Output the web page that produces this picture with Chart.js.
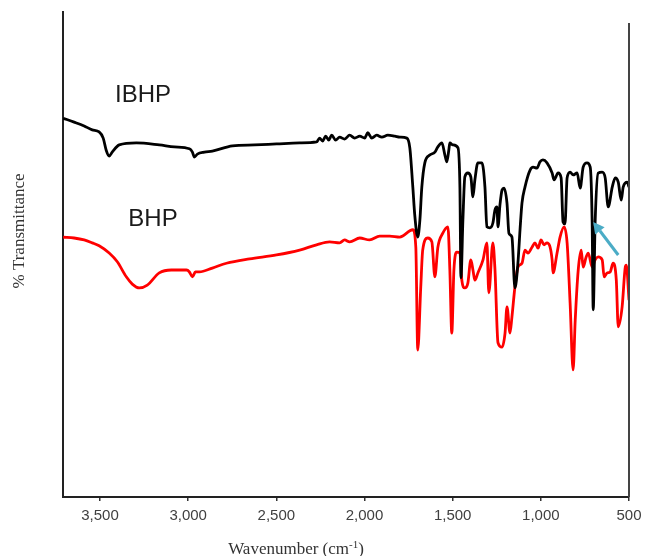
<!DOCTYPE html>
<html>
<head>
<meta charset="utf-8">
<script src="https://cdn.jsdelivr.net/npm/chart.js@4"></script>
<style>
  html, body { margin: 0; padding: 0; background: #fff; }
  #wrap { width: 645px; height: 556px; }
</style>
</head>
<body>
<div id="wrap"><canvas id="c" width="645" height="556"></canvas></div>
<script>
// ---- DATA ----
const xTicks = [3500, 3000, 2500, 2000, 1500, 1000, 500];
const seriesNames = ["IBHP", "BHP"];

const ibhpWn = [3709,3647,3590,3544,3505,3482,3465,3448,3431,3391,3294,3164,3078,2993,2976,2965,2948,2908,2863,2749,2624,2499,2368,2272,2255,2238,2220,2203,2186,2164,2141,2113,2084,2056,2027,1999,1982,1959,1931,1902,1868,1828,1800,1760,1743,1726,1715,1698,1686,1675,1658,1630,1601,1584,1561,1544,1533,1522,1516,1499,1470,1459,1453,1442,1431,1414,1397,1385,1374,1357,1334,1317,1306,1289,1272,1260,1249,1243,1232,1220,1209,1192,1181,1164,1147,1130,1118,1107,1090,1061,1044,1022,1005,988,965,936,925,902,885,874,863,851,834,817,794,777,760,738,720,709,703,692,675,652,635,618,595,578,561,544,533,510,500];
const ibhpT  = [78.1,77.3,76.5,75.7,75.3,74.0,71.5,70.3,71.1,72.6,73.0,72.6,72.2,71.8,71.1,70.1,70.7,71.1,71.3,72.4,72.6,72.8,73.0,73.2,74.0,73.4,74.4,73.6,74.6,73.6,74.2,73.8,74.6,74.0,74.4,74.0,75.1,74.0,74.6,74.2,74.6,74.4,74.2,74.0,72.0,63.9,58.1,53.6,57.1,63.9,68.9,70.5,71.1,72.2,73.0,70.5,69.1,71.5,73.0,72.6,72.0,63.9,45.2,57.1,66.0,66.8,66.0,61.9,65.4,68.9,68.9,63.9,55.7,55.5,56.5,59.2,59.8,55.7,60.2,63.3,63.7,60.6,54.4,53.6,43.1,48.2,55.1,60.6,63.9,67.4,68.0,67.8,69.1,69.5,68.9,66.8,65.4,66.8,65.8,56.7,56.3,65.8,67.0,66.4,66.8,63.7,68.0,68.9,68.0,56.7,38.6,56.7,66.8,67.0,65.8,59.8,63.9,65.8,64.9,61.2,63.9,64.9,63.9];

const bhpWn = [3709,3647,3590,3544,3505,3448,3402,3351,3317,3277,3232,3164,3096,3010,2993,2976,2959,2936,2863,2783,2652,2499,2368,2272,2198,2141,2113,2084,2027,1971,1914,1857,1800,1726,1709,1698,1681,1670,1641,1618,1601,1584,1556,1527,1516,1505,1493,1476,1459,1448,1431,1414,1397,1385,1374,1357,1328,1306,1295,1272,1260,1243,1220,1203,1192,1175,1164,1147,1130,1107,1090,1073,1050,1033,1016,999,982,965,936,931,908,891,868,851,834,817,805,788,771,760,743,731,709,692,675,652,641,624,607,590,572,561,539,521,515,500];
const bhpT  = [53.6,53.4,53.0,52.4,51.8,50.3,48.5,45.4,43.9,43.1,43.7,46.2,46.8,46.8,46.4,45.4,46.4,46.4,47.2,48.2,49.1,49.9,50.9,52.0,52.6,52.4,53.0,52.6,53.4,53.0,53.8,53.8,53.6,55.1,51.5,30.3,43.3,50.9,53.4,52.6,45.4,51.5,54.4,55.7,46.8,33.8,46.8,50.5,50.3,44.7,43.1,44.1,48.9,46.8,44.7,46.2,48.9,52.4,42.1,52.4,46.8,31.8,30.9,33.8,39.2,33.8,37.1,43.3,47.4,48.2,50.9,50.3,51.5,52.4,51.3,53.0,52.0,52.4,48.9,46.2,50.3,53.6,55.7,52.4,40.0,26.2,36.5,46.8,50.9,47.4,49.5,50.3,47.4,48.9,49.5,48.9,45.4,46.2,46.4,48.2,44.7,35.1,39.2,47.4,47.8,40.6];

// annotation arrow (tail -> head) in data units
const arrowTail = [561, 49.9];
const arrowHead = [703, 56.7];

const toPts = (xs, ys) => xs.map((x, i) => ({ x: x, y: ys[i] }));

// ---- PLUGIN: titles, labels, arrow, right frame ----
const decor = {
  id: 'decor',
  afterDatasetsDraw(chart) {
    const ctx = chart.ctx, ca = chart.chartArea;
    const xs = chart.scales.x, ys = chart.scales.y;
    ctx.save();
    // right frame line
    ctx.strokeStyle = '#444';
    ctx.lineWidth = 2;
    ctx.beginPath();
    ctx.moveTo(ca.right, 23);
    ctx.lineTo(ca.right, ca.bottom);
    ctx.stroke();

    // series labels
    ctx.fillStyle = '#1a1a1a';
    ctx.font = '24px "Liberation Sans", Arial, sans-serif';
    ctx.textAlign = 'center';
    ctx.textBaseline = 'middle';
    ctx.fillText(seriesNames[0], 143, 95);
    ctx.fillText(seriesNames[1], 153, 219);

    // arrow
    const x1 = xs.getPixelForValue(arrowTail[0]), y1 = ys.getPixelForValue(arrowTail[1]);
    const x2 = xs.getPixelForValue(arrowHead[0]), y2 = ys.getPixelForValue(arrowHead[1]);
    const ang = Math.atan2(y2 - y1, x2 - x1);
    const hl = 11, hw = 6;
    const bx = x2 - hl * Math.cos(ang), by = y2 - hl * Math.sin(ang);
    ctx.strokeStyle = '#4bacc6';
    ctx.fillStyle = '#4bacc6';
    ctx.lineWidth = 3;
    ctx.beginPath();
    ctx.moveTo(x1, y1);
    ctx.lineTo(bx, by);
    ctx.stroke();
    ctx.beginPath();
    ctx.moveTo(x2, y2);
    ctx.lineTo(bx + hw * Math.sin(ang), by - hw * Math.cos(ang));
    ctx.lineTo(bx - hw * Math.sin(ang), by + hw * Math.cos(ang));
    ctx.closePath();
    ctx.fill();

    // y axis title
    ctx.fillStyle = '#333';
    ctx.font = '17px "Liberation Serif", "Times New Roman", serif';
    ctx.save();
    ctx.translate(20, 231);
    ctx.rotate(-Math.PI / 2);
    ctx.textAlign = 'center';
    ctx.textBaseline = 'middle';
    ctx.fillText('% Transmittance', 0, 0);
    ctx.restore();

    // x axis title with superscript
    const main = 'Wavenumber (cm', sup = '-1', end = ')';
    const fMain = '17px "Liberation Serif", "Times New Roman", serif';
    const fSup = '11px "Liberation Serif", "Times New Roman", serif';
    ctx.font = fMain; const w1 = ctx.measureText(main).width, w3 = ctx.measureText(end).width;
    ctx.font = fSup; const w2 = ctx.measureText(sup).width;
    let x = 296 - (w1 + w2 + w3) / 2;
    const yb = 554;
    ctx.textAlign = 'left';
    ctx.textBaseline = 'alphabetic';
    ctx.font = fMain; ctx.fillText(main, x, yb); x += w1;
    ctx.font = fSup; ctx.fillText(sup, x, yb - 6); x += w2;
    ctx.font = fMain; ctx.fillText(end, x, yb);
    ctx.restore();
  }
};

new Chart(document.getElementById('c'), {
  type: 'line',
  data: {
    datasets: [
      { label: seriesNames[0], data: toPts(ibhpWn, ibhpT), borderColor: '#000', borderWidth: 2.8,
        pointRadius: 0, fill: false, cubicInterpolationMode: 'monotone' },
      { label: seriesNames[1], data: toPts(bhpWn, bhpT), borderColor: '#ff0000', borderWidth: 2.8,
        pointRadius: 0, fill: false, cubicInterpolationMode: 'monotone' }
    ]
  },
  options: {
    responsive: false,
    animation: false,
    events: [],
    layout: { padding: { top: 12, right: 16, left: 6, bottom: 0 } },
    plugins: { legend: { display: false }, tooltip: { enabled: false } },
    scales: {
      x: {
        type: 'linear', reverse: true, min: 500, max: 3710,
        afterBuildTicks: (s) => { s.ticks = xTicks.map(v => ({ value: v })); },
        afterFit: (s) => { s.height = 59; s.paddingLeft = 0; s.paddingRight = 0; },
        ticks: {
          padding: 6, color: '#404040', maxRotation: 0, autoSkip: false,
          font: { family: '"Liberation Sans", Arial, sans-serif', size: 15 },
          callback: (v) => Number(v).toLocaleString('en-US')
        },
        grid: { drawOnChartArea: false, drawTicks: true, tickLength: 4, color: '#333', lineWidth: 1.5 },
        border: { display: true, color: '#222', width: 2 }
      },
      y: {
        min: 0, max: 100,
        afterFit: (s) => { s.width = 57; },
        ticks: { display: false },
        grid: { display: false, drawTicks: false },
        border: { display: true, color: '#222', width: 2 }
      }
    }
  },
  plugins: [decor]
});
</script>
</body>
</html>
